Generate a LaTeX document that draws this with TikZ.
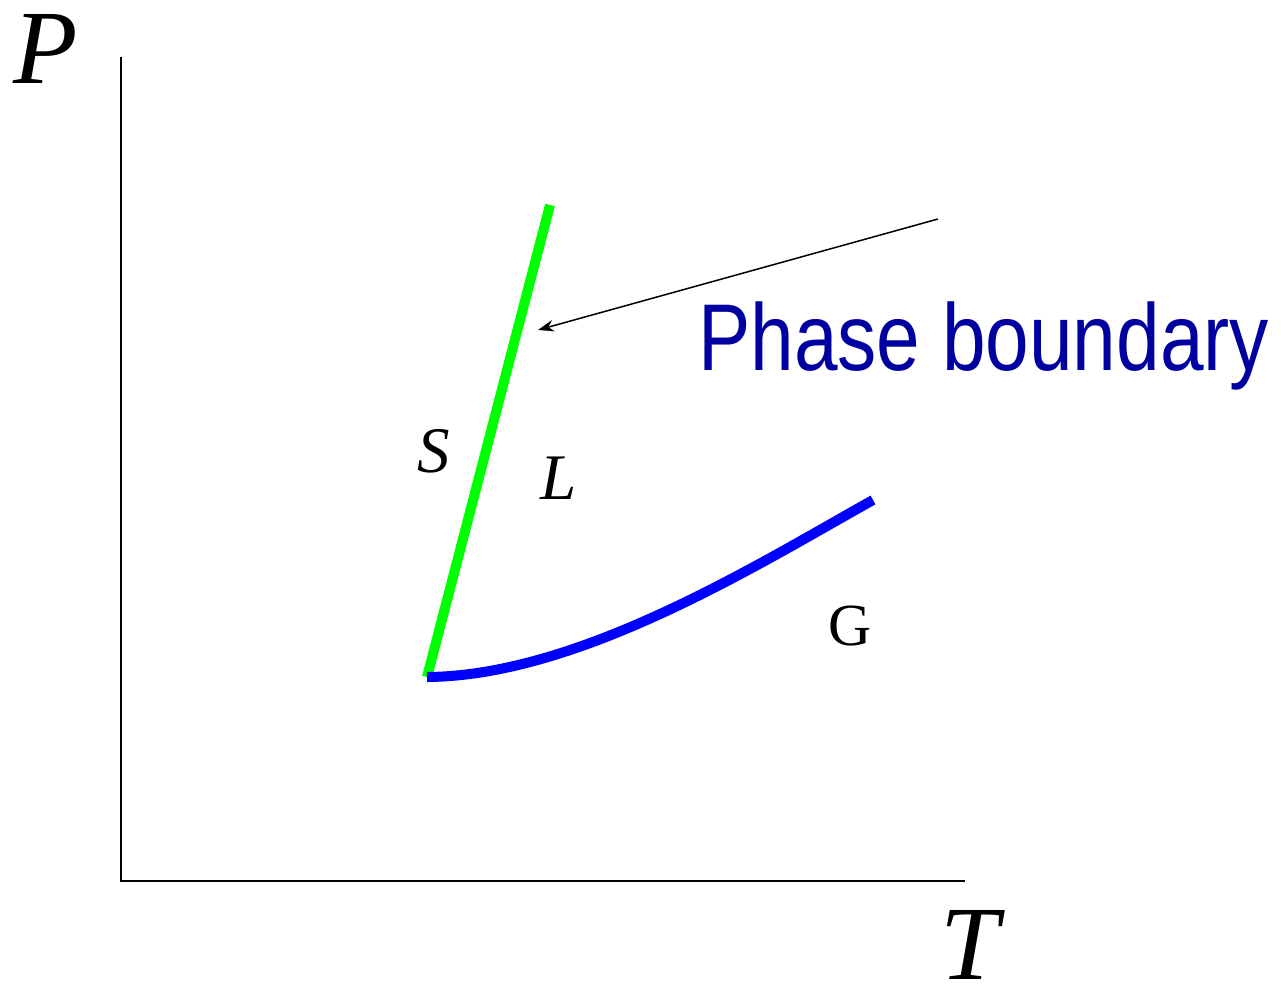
\documentclass[tikz,border=0pt]{standalone}
\usepackage{fontspec}
\setmainfont{Liberation Serif}
\newfontfamily\phasefont{Liberation Sans}
\usetikzlibrary{arrows.meta}
\definecolor{phgreen}{RGB}{0,255,0}
\definecolor{phblue}{RGB}{0,0,255}
\definecolor{labelblue}{RGB}{0,0,160}
\begin{document}
\begin{tikzpicture}[x=0.02cm,y=-0.02cm,
  axis/.style={line width=1.2pt,black},
  bigvar/.style={inner sep=0pt,font=\fontsize{60}{60}\selectfont\itshape},
  phaselbl/.style={inner sep=0pt,font=\fontsize{37}{37}\selectfont\itshape},
  gaslbl/.style={inner sep=0pt,font=\fontsize{34}{34}\selectfont},
  boundary/.style={line width=5.7pt},
  pointer/.style={line width=0.85pt,-{Stealth[length=9pt,width=6.5pt]}}]
\useasboundingbox (0,0) rectangle (1281,990);
% axes
\coordinate (ytop) at (121,57);
\coordinate (origin) at (121,881);
\coordinate (xend) at (965,881);
\draw[axis] (ytop) -- (origin) -- (xend);
\node[bigvar] (P) at (46,49) {P};
\node[bigvar] (T) at (970,945) {T};
% boundaries
\coordinate (triple) at (427,677);
\coordinate (meltTop) at (550,205);
\coordinate (vapEnd) at (873,500);
\draw[boundary,phgreen] (triple) -- (meltTop);
\draw[boundary,phblue] (triple) .. controls (580,676) and (760,563) .. (vapEnd);
% phase labels
\node[phaselbl] (S) at (434,451) {S};
\node[phaselbl] (L) at (559,478) {L};
\node[gaslbl] (G) at (850,626) {G};
% pointer
\coordinate (ptrStart) at (938,219);
\coordinate (ptrEnd) at (538,330);
\draw[pointer] (ptrStart) -- (ptrEnd);
\node[inner sep=0pt,anchor=base west,text=labelblue,font=\fontsize{54}{54}\selectfont\phasefont] (pb) at (698,370) {\scalebox{0.826}[1]{Phase boundary}};
\end{tikzpicture}
\end{document}
